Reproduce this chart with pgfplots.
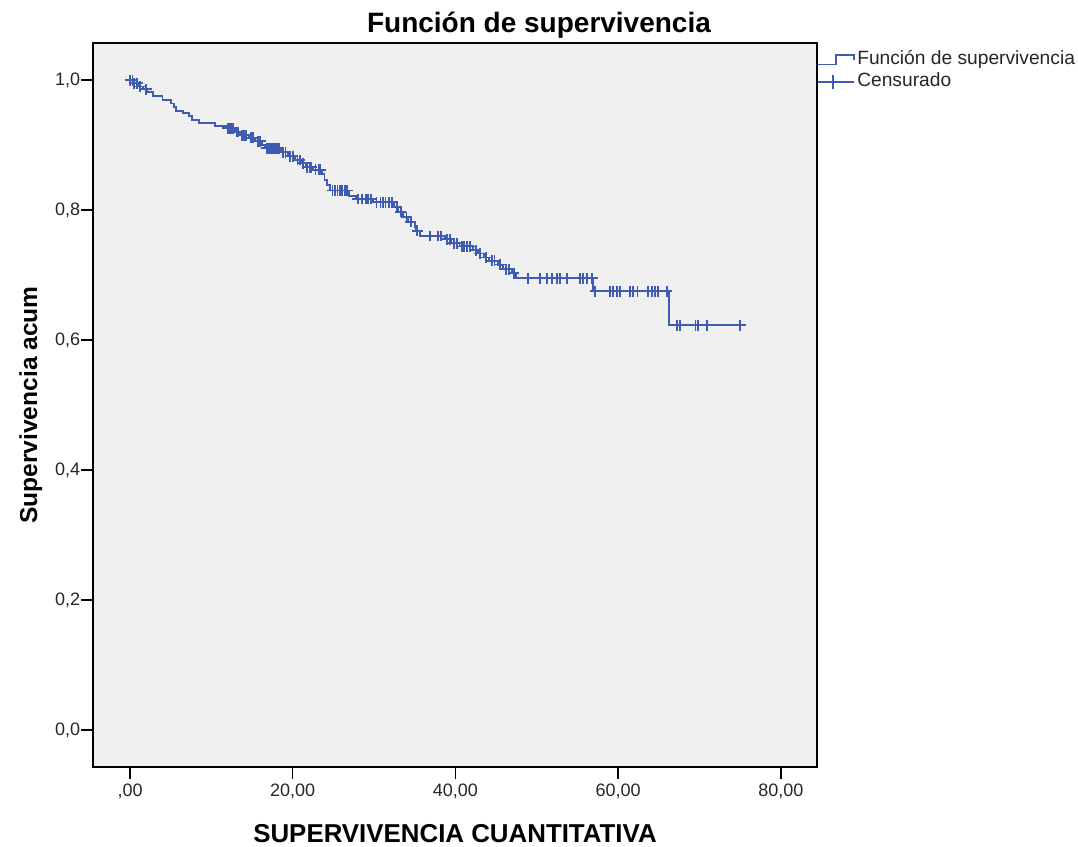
\documentclass[border=0pt]{standalone}
\usepackage{pgfplots}
\usepackage{pgfplotstable}
\pgfplotsset{compat=1.18}
\usepackage{fontspec}
\setmainfont{Liberation Sans}
\definecolor{kmblue}{HTML}{3F5BB2}
\definecolor{bggray}{HTML}{F0F0F0}

\pgfplotstableread{
x y
0 1.000
0.4 0.995
1.0 0.990
1.6 0.986
2.1 0.981
2.8 0.975
4.0 0.969
5.0 0.964
5.4 0.958
5.7 0.953
6.5 0.949
7.3 0.944
7.6 0.938
8.5 0.934
10.5 0.929
11.8 0.926
12.9 0.920
13.5 0.915
14.6 0.911
15.4 0.906
16.2 0.900
16.6 0.895
18.6 0.889
19.4 0.883
20.3 0.877
21.1 0.872
21.6 0.866
22.5 0.862
23.6 0.855
23.9 0.846
24.2 0.838
24.6 0.830
26.9 0.822
27.8 0.817
29.9 0.812
32.5 0.805
33.0 0.797
33.6 0.789
34.2 0.782
35.0 0.774
35.2 0.768
35.6 0.760
38.7 0.755
39.5 0.749
40.5 0.744
42.2 0.738
42.8 0.733
43.5 0.727
44.1 0.722
45.2 0.716
45.9 0.709
47.0 0.703
47.4 0.695
56.9 0.675
66.3 0.623
75.6 0.623
}\survtable

\pgfplotstableread{
x y
0 1.000
0.3 1.000
0.5 0.995
0.9 0.995
1.2 0.990
2.0 0.986
12.0 0.926
12.2 0.926
12.4 0.926
12.7 0.926
13.1 0.920
13.3 0.920
13.8 0.915
14.0 0.915
14.3 0.915
14.9 0.911
15.1 0.911
15.7 0.906
16.0 0.906
16.8 0.895
17.1 0.895
17.3 0.895
17.6 0.895
17.8 0.895
18.1 0.895
18.3 0.895
18.8 0.889
19.1 0.889
19.7 0.883
20.0 0.883
20.6 0.877
20.9 0.877
21.3 0.872
21.8 0.866
22.1 0.866
22.3 0.866
22.8 0.862
23.2 0.862
23.4 0.862
24.9 0.830
25.2 0.830
25.5 0.830
25.8 0.830
26.1 0.830
26.4 0.830
26.7 0.830
28.0 0.817
28.5 0.817
29.0 0.817
29.3 0.817
29.6 0.817
30.3 0.812
30.8 0.812
31.1 0.812
31.4 0.812
31.8 0.812
32.2 0.812
32.8 0.805
33.3 0.797
34.0 0.789
34.5 0.782
35.3 0.768
36.9 0.760
37.9 0.760
38.2 0.760
39.0 0.755
39.3 0.755
39.8 0.749
40.2 0.749
40.8 0.744
41.1 0.744
41.4 0.744
41.8 0.744
42.5 0.738
43.0 0.733
43.8 0.727
44.5 0.722
44.8 0.722
45.5 0.716
46.2 0.709
46.6 0.709
47.2 0.703
48.9 0.695
50.4 0.695
51.3 0.695
51.9 0.695
52.5 0.695
52.9 0.695
53.7 0.695
55.3 0.695
55.7 0.695
56.2 0.695
56.8 0.695
57.2 0.675
59.0 0.675
59.4 0.675
59.9 0.675
60.2 0.675
61.5 0.675
61.8 0.675
62.4 0.675
63.7 0.675
64.2 0.675
64.5 0.675
64.9 0.675
66.0 0.675
67.2 0.623
67.6 0.623
69.5 0.623
69.8 0.623
70.9 0.623
75.0 0.623
}\censtable

\begin{document}
\begin{tikzpicture}
\begin{axis}[
  scale only axis, width=543bp, height=543bp,
  xmin=-4.55, xmax=84.45, ymin=-0.057, ymax=1.057,
  axis background/.style={fill=bggray},
  axis line style={line width=1.1bp, black},
  xtick={0,20,40,60,80},
  xticklabels={{,00},{20,00},{40,00},{60,00},{80,00}},
  ytick={0,0.2,0.4,0.6,0.8,1.0},
  yticklabels={{0,0},{0,2},{0,4},{0,6},{0,8},{1,0}},
  tick align=outside, xtick pos=left, ytick pos=left,
  major tick length=9bp,
  tick style={line width=1.1bp, black},
  tick label style={font=\fontsize{13.5bp}{16bp}\selectfont, text=black!85},
  yticklabel style={inner sep=0.5bp},
  title={Función de supervivencia},
  title style={at={(axis description cs:0.616,1.003)}, anchor=base,
    font=\fontsize{21bp}{25bp}\selectfont\bfseries},
  xlabel={SUPERVIVENCIA CUANTITATIVA},
  xlabel style={at={(axis description cs:0.5,-0.1036)}, anchor=base,
    font=\fontsize{19.4bp}{23bp}\selectfont\bfseries},
  ylabel={Supervivencia acum},
  ylabel style={at={(axis description cs:-0.0773,0.5)}, anchor=base,
    font=\fontsize{18.4bp}{21bp}\selectfont\bfseries},
  legend style={at={(axis description cs:1,0.992)}, anchor=north west,
    draw=none, fill=none, inner sep=0pt, outer sep=0pt,
    font=\fontsize{14.4bp}{17bp}\selectfont, text=black!85,
    row sep=0pt, column sep=0.5bp,
    nodes={inner sep=1.5bp, text height=10.5bp, text depth=3bp}},
  legend cell align=left,
]
\addplot[const plot, kmblue, line width=1.4bp,
  legend image code/.code={\draw[kmblue, line width=1.2bp] (0bp,-3.4bp) -- (13.5bp,-3.4bp) -- (13.5bp,3.4bp) -- (27bp,3.4bp) -- (27bp,0bp);}]
  table[x=x,y=y] {\survtable};
\addplot[only marks, mark=+, mark size=4.1bp, kmblue, mark options={line width=1.3bp},
  legend image code/.code={\draw[kmblue, line width=1.2bp] (0bp,0bp) -- (27bp,0bp); \draw[kmblue, line width=1.2bp] (11.25bp,-5.25bp) -- (11.25bp,5.25bp);}]
  table[x=x,y=y] {\censtable};
\legend{Función de supervivencia, Censurado}
\end{axis}
\path[use as bounding box] ([shift={(-69.75bp,-60bp)}]current axis.south west) rectangle ([shift={(738.75bp,575.25bp)}]current axis.south west);
\end{tikzpicture}
\end{document}
